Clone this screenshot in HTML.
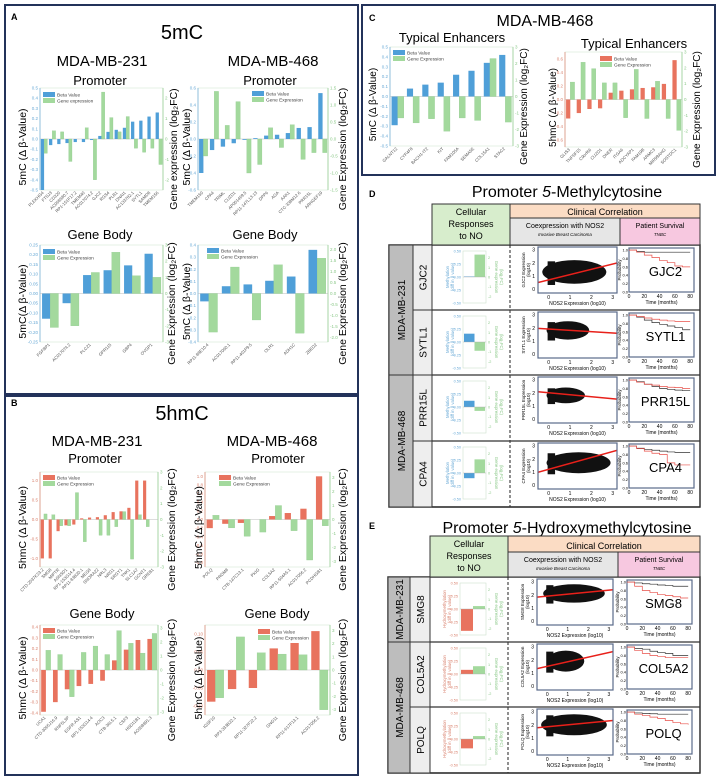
<!DOCTYPE html>
<html><head><meta charset="utf-8"><style>
html,body{margin:0;padding:0;background:#fff;}
svg{display:block;}
</style></head><body>
<svg id="fig" width="720" height="780" viewBox="0 0 720 780" xmlns="http://www.w3.org/2000/svg" font-family="Liberation Sans, sans-serif">
<rect x="0" y="0" width="720" height="780" fill="#fff"/>
<rect x="5" y="5" width="353" height="389" fill="none" stroke="#23325a" stroke-width="2"/>
<rect x="5" y="396" width="353" height="379" fill="none" stroke="#23325a" stroke-width="2"/>
<rect x="362" y="5" width="353" height="170" fill="none" stroke="#23325a" stroke-width="2"/>
<text x="11" y="20" font-size="9" font-weight="bold">A</text>
<text x="182" y="39" font-size="20" text-anchor="middle">5mC</text>
<text x="102" y="66" font-size="15" text-anchor="middle">MDA-MB-231</text>
<text x="273" y="66" font-size="15" text-anchor="middle">MDA-MB-468</text>
<text x="100" y="85" font-size="13" text-anchor="middle">Promoter</text>
<text x="270" y="85" font-size="13" text-anchor="middle">Promoter</text>
<text x="100" y="239" font-size="13" text-anchor="middle">Gene Body</text>
<text x="265" y="239" font-size="13" text-anchor="middle">Gene Body</text>
<text x="11" y="406" font-size="9" font-weight="bold">B</text>
<text x="182" y="420" font-size="20" text-anchor="middle">5hmC</text>
<text x="97" y="446" font-size="15" text-anchor="middle">MDA-MB-231</text>
<text x="272" y="446" font-size="15" text-anchor="middle">MDA-MB-468</text>
<text x="95" y="463" font-size="13" text-anchor="middle">Promoter</text>
<text x="278" y="463" font-size="13" text-anchor="middle">Promoter</text>
<text x="102" y="618" font-size="13" text-anchor="middle">Gene Body</text>
<text x="277" y="618" font-size="13" text-anchor="middle">Gene Body</text>
<text x="369" y="21" font-size="9" font-weight="bold">C</text>
<text x="545" y="26" font-size="16" text-anchor="middle">MDA-MB-468</text>
<text x="452" y="42" font-size="13" text-anchor="middle">Typical Enhancers</text>
<text x="634" y="48" font-size="13" text-anchor="middle">Typical Enhancers</text>
<text x="369" y="197" font-size="9" font-weight="bold">D</text>
<text x="567" y="197" font-size="16" text-anchor="middle">Promoter <tspan font-style="italic">5</tspan>-Methylcytosine</text>
<text x="369" y="529" font-size="9" font-weight="bold">E</text>
<text x="567" y="533" font-size="16" text-anchor="middle">Promoter <tspan font-style="italic">5</tspan>-Hydroxymethylcytosine</text>
</svg>
<script>
// ---------- DATA ----------
const aPro231Genes=['PLEKHG4','FTSJ3','CD320','AC068580.7','RP1-151F17.2','TMEM40','AC017074.2','GJC2','RGS4','PLB1','DNAI1','AC133782.1','SYTL1','SAMD8','TMEM156'];
const aPro231Beta=[-0.5,-0.06,-0.05,-0.04,-0.03,-0.03,-0.01,0.03,0.07,0.09,0.11,0.17,0.18,0.22,0.26];
const aPro231Expr=[-0.7,0.4,0.35,-1.1,0,0.55,-2.0,2.3,1.05,0.35,1.1,-0.45,-0.65,-0.45,-1.25];
const aPro468Genes=['TMEM150','CPA4','TRIML','CUZD1','AP001469.5','RP11-147L13.13','DPP6','AGA','AAK1','CTC-338M12.6','PRR15L','ARHGEF19'];
const aPro468Beta=[-0.4,-0.13,-0.09,-0.05,-0.01,0.01,0.04,0.05,0.07,0.13,0.14,0.54];
const aPro468Expr=[-0.5,1.4,0.4,1.1,-1.0,-0.75,0.33,-0.25,0.42,-0.6,-0.4,-0.4];
const aGb231Genes=['FGFBP1','AC017074.2','PLCZ1','GPR115','GBP4','OVGP1'];
const aGb231Beta=[-0.13,-0.05,0.095,0.12,0.145,0.205];
const aGb231Expr=[-2.1,-2.0,1.3,2.55,1.1,1.0];
const aGb468Genes=['RP11-88E10.4','AC017060.1','RP11-401P9.5','OLR1','ADH1C','ZBED2'];
const aGb468Beta=[-0.065,0.06,0.075,0.105,0.14,0.36];
const aGb468Expr=[-1.75,1.2,-1.2,1.3,-1.8,1.6];
const bPro231Genes=['CTD-2037K23.2','SMG8','MIPTR','ASNSD1','RP1-153G14.4','RP11-83B20.1','MEG8','SNORA22','NRL3','NRG1','SRGY1','TNK1','SLC1A7','GCNT1','GREB1'];
const bPro231Beta=[-1.0,-1.0,-0.3,-0.15,-0.13,0.03,0.05,0.06,0.11,0.19,0.21,0.3,1.0,1.0,0];
const bPro231Expr=[0.35,0.3,-0.4,-0.4,1.7,-1.4,0,-1.0,-1.0,-0.45,0.5,-2.5,0.3,-0.45,0];
const bPro468Genes=['POLQ','PRDM8','CTB-147C13.1','PKIG','COL5A2','RP11-504A5.1','AC017056.2','PCDHGB1'];
const bPro468Beta=[-0.2,-0.1,-0.08,0,0.08,0.15,0.25,1.0];
const bPro468Expr=[0.3,-0.6,-1.2,-0.9,1.0,-0.8,-2.9,-0.45];
const bGb231Genes=['UCA1','CTD-3065J16.9','RNF5L3P','EGFR-AS1','RP1-153G14.4','AOC3','CTB-36L5.1','CSF3','HSD11B1','AC008891.3'];
const bGb231Beta=[-0.39,-0.3,-0.18,-0.15,-0.13,-0.1,0.09,0.19,0.28,0.29];
const bGb231Expr=[1.4,1.1,-1.9,1.25,1.7,1.1,2.8,1.9,1.2,2.6];
const bGb468Genes=['IGSF10','RP3-333B22.1','RP11-327F22.2','GNG11','RP11-617F13.1','AC017056.2'];
const bGb468Beta=[-0.088,-0.053,-0.05,0.06,0.075,0.108];
const bGb468Expr=[-2.1,2.5,1.3,1.2,1.15,-3.0];
const cLeftGenes=['GALNT12','CYP4F8','BACH1-IT2','KIT','FAM105A','SEMA5E','COL15A1','STAC2'];
const cLeftBeta=[-0.29,0.08,0.12,0.14,0.22,0.26,0.34,0.42];
const cLeftExpr=[-1.3,-1.6,-1.35,-2.1,-1.3,-1.45,2.3,-1.55];
const cRightGenes=['GLIS3','TNFSF15','C9orf66','CUZD1','DNER','ITGA6','ADCYAP1','FAM19B','ARMC3','MIR99AHG','SOSTDC1'];
const cRightBeta=[-0.28,-0.2,-0.14,-0.13,0.1,0.13,0.15,0.17,0.18,0.23,0.58];
const cRightExpr=[1.1,2.35,1.95,1.05,1.05,-1.15,1.9,-1.2,1.15,-1.2,-1.95];
const dGenes=['GJC2','SYTL1','PRR15L','CPA4'];
const dBeta=[0.01,0.16,0.12,-0.1];
const dExpr=[2.3,-0.9,-0.4,1.4];
const dIntercept=[0.7,1.9,2.0,1.2];
const dSlope=[0.4,-0.1,-0.15,0.45];
const dCloudCx=[1.2,0.9,0.8,1.4], dCloudCy=[1.3,1.8,1.8,1.7], dCloudRx=[1.5,1.0,0.9,1.5], dCloudRy=[0.9,0.7,0.6,0.8];
const eGenes=['SMG8','COL5A2','POLQ'];
const eBeta=[-0.42,0.08,-0.18];
const eExpr=[0.3,0.8,0.3];
const eIntercept=[1.9,1.5,1.85];
const eSlope=[0.15,0.35,0.15];
const eCloudCx=[1.3,0.9,1.3], eCloudCy=[2.1,1.9,2.0], eCloudRx=[1.5,0.9,1.6], eCloudRy=[0.7,0.8,0.8];
const kmTime=[0,10,20,30,40,50,60,70,80];
const kmLowD=[[1,.97,.95,.95,.95,.95,.95,.95,.95],[1,.95,.88,.82,.78,.74,.7,.65,.65],[1,.96,.9,.85,.8,.78,.76,.75,.75],[1,.95,.92,.9,.88,.86,.85,.85,.85]];
const kmHighD=[[1,.95,.88,.82,.75,.7,.62,.6,.6],[1,.97,.93,.9,.88,.86,.85,.85,.85],[1,.95,.9,.88,.85,.83,.82,.8,.8],[1,.94,.88,.83,.8,.6,.55,.55,.55]];
const kmLowE=[[1,.98,.96,.95,.93,.92,.9,.9,.9],[1,.97,.95,.9,.87,.85,.8,.8,.8],[1,.98,.97,.96,.95,.95,.95,.95,.95]];
const kmHighE=[[1,.9,.8,.75,.7,.68,.65,.62,.62],[1,.92,.85,.8,.78,.75,.75,.75,.75],[1,.95,.92,.88,.85,.8,.75,.72,.7]];

// ---------- HELPERS ----------
const NS='http://www.w3.org/2000/svg';
const svg=document.getElementById('fig');
function mk(tag,attrs,parent){const e=document.createElementNS(NS,tag);for(const k in attrs)e.setAttribute(k,attrs[k]);(parent||svg).appendChild(e);return e;}
function txt(s,attrs,parent){const e=mk('text',attrs,parent);e.textContent=s;return e;}
const BLUE='#4f9fd8',GREEN='#a3d99d',RED='#e8735e',LB='#6aaad6',LG='#8cc98a',LR='#d9826e';
function range(a,b,s){const r=[];for(let v=a;v<=b+1e-9;v+=s)r.push(+v.toFixed(4));return r;}

function drawBarChart(c){
  const g=mk('g',{});
  
  
  const yL=v=>c.y+c.h*(c.lmax-v)/(c.lmax-c.lmin);
  const yR=v=>c.y+c.h*(c.rmax-v)/(c.rmax-c.rmin);
  const n=c.genes.length,bw=c.w/n;
  const fr=mk('rect',{x:c.x,y:c.y,width:c.w,height:c.h,fill:'none',stroke:'#d6e6d6','stroke-width':0.6},g);
  
  
  const lcol=c.red?LR:LB;
  const la=mk('line',{x1:c.x,y1:c.y,x2:c.x,y2:c.y+c.h,stroke:lcol,'stroke-width':0.7},g);
  
  
  const ra=mk('line',{x1:c.x+c.w,y1:c.y,x2:c.x+c.w,y2:c.y+c.h,stroke:LG,'stroke-width':0.7},g);
  
  
  c.lticks.forEach(v=>{
    const t=txt(v.toFixed(c.ldec),{x:c.x-2,y:yL(v)+1.5,'font-size':4.5,'text-anchor':'end',fill:lcol},g);
    
    
  });
  c.rticks.forEach(v=>{
    const t=txt(v.toFixed(c.rdec),{x:c.x+c.w+2,y:yR(v)+1.5,'font-size':4.5,fill:LG},g);
    
    
  });
  const z=mk('line',{x1:c.x,y1:yL(0),x2:c.x+c.w,y2:yL(0),stroke:'#bbb','stroke-width':0.5},g);
  
  
  for(let i=0;i<n;i++){
    const bx=c.x+i*bw;
    const b=c.beta[i],e=c.expr[i];
    const r1=mk('rect',{x:bx+bw*0.1,y:Math.min(yL(b),yL(0)),width:bw*0.4,height:Math.abs(yL(b)-yL(0)),fill:c.red?RED:BLUE},g);
    
    
    const r2=mk('rect',{x:bx+bw*0.5,y:Math.min(yR(e),yR(0)),width:bw*0.4,height:Math.abs(yR(e)-yR(0)),fill:GREEN,stroke:'#8cc98a','stroke-width':0.3},g);
    
    
    const cx=bx+bw/2,cy=c.y+c.h+3;
    const t=txt(c.genes[i],{x:cx,y:cy,'font-size':4.3,'text-anchor':'end',fill:'#555',transform:`rotate(-45 ${cx} ${cy})`},g);
    
    
  }
  const lg=mk('g',{},g);
  
  
  const s1=mk('rect',{x:c.legX,y:c.legY,width:12,height:5,fill:c.red?RED:BLUE},lg);
  
  
  const t1=txt('Beta Value',{x:c.legX+14,y:c.legY+4.5,'font-size':4.8,fill:'#444'},lg);
  
  
  const s2=mk('rect',{x:c.legX,y:c.legY+6,width:12,height:5,fill:GREEN},lg);
  
  
  const t2=txt(c.exprLabel||'Gene Expression',{x:c.legX+14,y:c.legY+10.5,'font-size':4.8,fill:'#444'},lg);
  
  
  const my=c.y+c.h/2+8;
  const lt=txt(c.ltitle,{x:c.ltx,y:my,'font-size':c.tfs||10.5,'text-anchor':'middle',transform:`rotate(-90 ${c.ltx} ${my})`},g);
  
  
  const ry=c.y+c.h/2+10;
  const rt=mk('text',{x:c.rtx,y:ry,'font-size':c.tfs||10.5,'text-anchor':'middle',transform:`rotate(-90 ${c.rtx} ${ry})`},g);
  rt.textContent=(c.rtitle||'Gene Expression')+' (log₂FC)';
  
  
}

const charts=[
 {name:'a-promoter-231-chart',x:40,y:88,w:123,h:102,lmin:-.5,lmax:.5,lticks:range(-.5,.5,.1),ldec:1,rmin:-2.5,rmax:2.5,rticks:range(-2,2,1),rdec:0,genes:aPro231Genes,beta:aPro231Beta,expr:aPro231Expr,legX:43,legY:92,ltx:26,rtx:177,ltitle:'5mC (Δ β-Value)',rtitle:'Gene expression',exprLabel:'Gene expression'},
 {name:'a-promoter-468-chart',x:198,y:88,w:130,h:102,lmin:-.6,lmax:.6,lticks:range(-.6,.6,.2),ldec:1,rmin:-1.5,rmax:1.5,rticks:range(-1.5,1.5,.5),rdec:1,genes:aPro468Genes,beta:aPro468Beta,expr:aPro468Expr,legX:252,legY:91,ltx:190,rtx:346,ltitle:'5mC (Δ β-Value)'},
 {name:'a-genebody-231-chart',x:40,y:245,w:123,h:97,lmin:-.25,lmax:.25,lticks:range(-.25,.25,.05),ldec:2,rmin:-3,rmax:3,rticks:range(-3,3,1),rdec:0,genes:aGb231Genes,beta:aGb231Beta,expr:aGb231Expr,legX:43,legY:249,ltx:26,rtx:175,ltitle:'5mC(Δ β-Value)'},
 {name:'a-genebody-468-chart',x:198,y:245,w:130,h:97,lmin:-.4,lmax:.4,lticks:range(-.4,.4,.1),ldec:1,rmin:-2.2,rmax:2.2,rticks:range(-2,2,.5),rdec:1,genes:aGb468Genes,beta:aGb468Beta,expr:aGb468Expr,legX:207,legY:248,ltx:190,rtx:346,ltitle:'5mC (Δ β-Value)'},
 {name:'b-promoter-231-chart',x:40,y:472,w:118,h:95,lmin:-1.22,lmax:1.22,lticks:range(-1,1,.5),ldec:1,rmin:-3,rmax:3,rticks:range(-3,3,1),rdec:0,genes:bPro231Genes,beta:bPro231Beta,expr:bPro231Expr,legX:43,legY:475,ltx:26,rtx:175,ltitle:'5hmC (Δ β-Value)',red:true},
 {name:'b-promoter-468-chart',x:205,y:472,w:125,h:95,lmin:-1.1,lmax:1.1,lticks:range(-1,1,.2),ldec:1,rmin:-3.4,rmax:3.4,rticks:range(-3,3,1),rdec:0,genes:bPro468Genes,beta:bPro468Beta,expr:bPro468Expr,legX:219,legY:475,ltx:202,rtx:346,ltitle:'5hmC (Δ β-Value)',red:true},
 {name:'b-genebody-231-chart',x:40,y:625,w:118,h:90,lmin:-.42,lmax:.42,lticks:range(-.4,.4,.1),ldec:1,rmin:-3.2,rmax:3.2,rticks:range(-3,3,1),rdec:0,genes:bGb231Genes,beta:bGb231Beta,expr:bGb231Expr,legX:43,legY:628,ltx:26,rtx:175,ltitle:'5hmC (Δ β-Value)',red:true},
 {name:'b-genebody-468-chart',x:205,y:625,w:125,h:90,lmin:-.125,lmax:.125,lticks:range(-.1,.1,.05),ldec:2,rmin:-3.4,rmax:3.4,rticks:range(-3,3,1),rdec:0,genes:bGb468Genes,beta:bGb468Beta,expr:bGb468Expr,legX:258,legY:629,ltx:202,rtx:346,ltitle:'5hmC (Δ β-Value)',red:true},
 {name:'c-enhancer-5mc-chart',x:390,y:47,w:123,h:99,lmin:-.5,lmax:.5,lticks:range(-.5,.5,.1),ldec:1,rmin:-3,rmax:3,rticks:range(-3,3,1),rdec:0,genes:cLeftGenes,beta:cLeftBeta,expr:cLeftExpr,legX:393,legY:50,ltx:376,rtx:527,ltitle:'5mC (Δ β-Value)',tfs:10},
 {name:'c-enhancer-5hmc-chart',x:565,y:52,w:117,h:95,lmin:-.7,lmax:.7,lticks:range(-.6,.6,.2),ldec:1,rmin:-3,rmax:3,rticks:range(-3,3,1),rdec:0,genes:cRightGenes,beta:cRightBeta,expr:cRightExpr,legX:600,legY:56,ltx:556,rtx:700,ltitle:'5hmC (Δ β-Value)',tfs:10,red:true}
];
charts.forEach(drawBarChart);

// ---------- TABLES ----------
function rect(x,y,w,h,fill,name,stroke,sw){
  const r=mk('rect',{x,y,width:w,height:h,fill,stroke:stroke||'#333','stroke-width':sw||1});
  
  
  return r;
}
function label(s,x,y,fs,name,extra){
  const a=Object.assign({x,y,'font-size':fs,'text-anchor':'middle'},extra||{});
  const t=txt(s,a);
  
  
  return t;
}
function drawTable(T){
  rect(T.x0,T.rows[0],T.x3-T.x0,T.rows[T.rows.length-1]-T.rows[0],'none',T.p+'-table-frame','#333',1.5);
  rect(T.x2,T.hy0,T.xd-T.x2,T.rows[0]-T.hy0,'#d7edcc',T.p+'-header-cellular');
  label('Cellular',(T.x2+T.xd)/2,T.hy0+11,9,T.p+'-header-cellular-text');
  label('Responses',(T.x2+T.xd)/2,T.hy0+23,9,T.p+'-header-cellular-text2');
  label('to NO',(T.x2+T.xd)/2,T.hy0+35,9,T.p+'-header-cellular-text3');
  rect(T.xd,T.hy0,T.x3-T.xd,T.hy1-T.hy0,'#fbdcc4',T.p+'-header-clinical');
  label('Clinical Correlation',(T.xd+T.x3)/2,T.hy1-3,9,T.p+'-header-clinical-text');
  rect(T.xd,T.hy1,T.xk-T.xd,T.rows[0]-T.hy1,'#e6e6e6',T.p+'-header-coexpression');
  label('Coexpression with NOS2',(T.xd+T.xk)/2,T.hy1+10,7,T.p+'-header-coexpression-text');
  label('Invasive Breast Carcinoma',(T.xd+T.xk)/2,T.hy1+18,4.5,T.p+'-header-coexpression-sub',{'font-style':'italic'});
  rect(T.xk,T.hy1,T.x3-T.xk,T.rows[0]-T.hy1,'#f7c8e0',T.p+'-header-survival');
  label('Patient Survival',(T.xk+T.x3)/2,T.hy1+10,7,T.p+'-header-survival-text');
  label('TNBC',(T.xk+T.x3)/2,T.hy1+18,4.5,T.p+'-header-survival-sub',{'font-style':'italic'});
  T.groups.forEach(gr=>{
    const y0=T.rows[gr.from],y1=T.rows[gr.to+1];
    rect(T.x0,y0,T.x1-T.x0,y1-y0,'#bdbdbd',T.p+'-cell-line-cell');
    const cx=(T.x0+T.x1)/2+4,cy=(y0+y1)/2;
    label(gr.name,cx,cy,10,T.p+'-cell-line-label',{transform:`rotate(-90 ${cx} ${cy})`});
  });
  const dash=mk('line',{x1:T.xd,y1:T.rows[0],x2:T.xd,y2:T.rows[T.rows.length-1],stroke:'#222','stroke-width':1,'stroke-dasharray':'3,2'});
  
  
  T.genes.forEach((gname,i)=>{
    const y0=T.rows[i],y1=T.rows[i+1];
    rect(T.x1,y0,T.x2-T.x1,y1-y0,'#eeeeee',T.p+'-gene-cell');
    const cx=(T.x1+T.x2)/2+4,cy=(y0+y1)/2;
    label(gname,cx,cy,10,T.p+'-gene-label',{transform:`rotate(-90 ${cx} ${cy})`});
    const rl=mk('line',{x1:T.x2,y1:y1,x2:T.x3,y2:y1,stroke:'#333','stroke-width':1.2});
    
    
    const mx=T.mx0,mw=T.mx1-T.mx0,my=y0+6,mh=52;
    const yl=v=>my+mh*(0.5-v)/1.0, yr=v=>my+mh*(2.67-v)/5.34;
    const mg=mk('g',{});
    
    
    const fr=mk('rect',{x:mx,y:my,width:mw,height:mh,fill:'none',stroke:'#cfe0cf','stroke-width':0.6},mg);
    
    
    const lc=T.red?LR:LB;
    [0.5,0.25,0,-0.25,-0.5].forEach(v=>{
      const t=txt(v.toFixed(2),{x:mx-2,y:yl(v)+1.5,'font-size':3.8,'text-anchor':'end',fill:lc},mg);
      
      
    });
    [2,1,0,-1,-2].forEach(v=>{
      const t=txt(String(v),{x:mx+mw+2,y:yr(v)+1.5,'font-size':3.8,fill:LG},mg);
      
      
    });
    const b=T.beta[i],e=T.expr[i];
    const r1=mk('rect',{x:mx+1,y:Math.min(yl(b),yl(0)),width:mw/2-1,height:Math.abs(yl(b)-yl(0)),fill:T.red?RED:BLUE},mg);
    
    
    const r2=mk('rect',{x:mx+mw/2,y:Math.min(yr(e),yr(0)),width:mw/2-1,height:Math.abs(yr(e)-yr(0)),fill:GREEN},mg);
    
    
    const zl=mk('line',{x1:mx,y1:yl(0),x2:mx+mw,y2:yl(0),stroke:'#aaa','stroke-width':0.4},mg);
    
    
    const ax=mx-14,ay=my+mh/2;
    const t1=txt(T.red?'Hydroxymethylation':'Methylation',{x:ax,y:ay,'font-size':4.3,'text-anchor':'middle',fill:lc,transform:`rotate(-90 ${ax} ${ay})`},mg);
    
    
    const t2=txt('(diff in β value)',{x:ax+5,y:ay,'font-size':4.3,'text-anchor':'middle',fill:lc,transform:`rotate(-90 ${ax+5} ${ay})`},mg);
    
    
    const bx2=mx+mw+9;
    const t3=txt('Gene expression',{x:bx2,y:ay,'font-size':4.3,'text-anchor':'middle',fill:LG,transform:`rotate(90 ${bx2} ${ay})`},mg);
    
    
    const t4=txt('(log₂FC)',{x:bx2+5,y:ay,'font-size':4.3,'text-anchor':'middle',fill:LG,transform:`rotate(90 ${bx2+5} ${ay})`},mg);
    
    
    const sx0=T.sx0,sx1=T.sx1,sy0=y0+2,sy1=y0+48;
    const X=v=>sx0+(sx1-sx0)*(v+0.5)/3.7, Y=v=>sy1-(sy1-sy0)*(v+0.3)/3.5;
    const sg=mk('g',{});
    
    
    const cp=mk('clipPath',{id:'clip'+gname},sg);
    mk('rect',{x:sx0,y:sy0,width:sx1-sx0,height:sy1-sy0},cp);
    const cl=mk('g',{'clip-path':`url(#clip${gname})`},sg);
    const cxv=T.ccx[i],cyv=T.ccy[i];
    const el=mk('ellipse',{cx:X(cxv),cy:Y(cyv),rx:(X(T.crx[i])-X(0)),ry:(Y(0)-Y(T.cry[i])),fill:'#111'},cl);
    
    
    const col=mk('rect',{x:X(-0.05),y:Y(cyv+T.cry[i]*0.9),width:X(0.35)-X(0),height:Y(cyv-T.cry[i]*1.1)-Y(cyv+T.cry[i]*0.9),fill:'#111'},cl);
    
    
    const ln=mk('line',{x1:X(-0.5),y1:Y(T.ic[i]+T.sl[i]*-0.5),x2:X(3.2),y2:Y(T.ic[i]+T.sl[i]*3.2),stroke:'#e8201a','stroke-width':1.5},cl);
    
    
    const bf=mk('rect',{x:sx0,y:sy0,width:sx1-sx0,height:sy1-sy0,fill:'none',stroke:'#5a6a8a','stroke-width':1.2},sg);
    
    
    [0,1,2,3].forEach(v=>{
      const a=txt(String(v),{x:X(v),y:sy1+6,'font-size':5,'text-anchor':'middle'},sg);
      
      
      const b2=txt(String(v),{x:sx0-3,y:Y(v)+2,'font-size':5,'text-anchor':'end'},sg);
      
      
    });
    const xt=txt('NOS2 Expression (log10)',{x:(sx0+sx1)/2,y:sy1+12,'font-size':5,'text-anchor':'middle'},sg);
    
    
    const yx=sx0-13,yy=(sy0+sy1)/2;
    const yt=txt(gname+' Expression',{x:yx,y:yy,'font-size':4.5,'text-anchor':'middle',transform:`rotate(-90 ${yx} ${yy})`},sg);
    
    
    const yt2=txt('(log10)',{x:yx+5,y:yy,'font-size':4.5,'text-anchor':'middle',transform:`rotate(-90 ${yx+5} ${yy})`},sg);
    
    
    const kx0=T.kx0,kx1=T.kx1,ky0=y0+3,ky1=y0+47;
    const KX=t=>kx0+(kx1-kx0)*t/85, KY=p=>ky1-(ky1-ky0)*p/1.05;
    const kg=mk('g',{});
    
    
    const kf=mk('rect',{x:kx0,y:ky0,width:kx1-kx0,height:ky1-ky0,fill:'#fff',stroke:'#5a6a8a','stroke-width':1.2},kg);
    
    
    [[T.kmL[i],'#333','survival-curve-low'],[T.kmH[i],'#e8504a','survival-curve-high']].forEach(([arr,colr,nm])=>{
      let d='M'+KX(kmTime[0])+','+KY(arr[0]);
      for(let k=1;k<kmTime.length;k++){d+=' H'+KX(kmTime[k])+' V'+KY(arr[k]);}
      const p=mk('path',{d,fill:'none',stroke:colr,'stroke-width':0.7},kg);
      
      
    });
    const gn=txt(gname,{x:(kx0+kx1)/2+4,y:(ky0+ky1)/2+6,'font-size':13,'text-anchor':'middle'},kg);
    
    
    [0,20,40,60,80].forEach(v=>{
      const a=txt(String(v),{x:KX(v),y:ky1+6,'font-size':5,'text-anchor':'middle'},kg);
      
      
    });
    [0,0.2,0.4,0.6,0.8,1.0].forEach(v=>{
      const a=txt(v.toFixed(1),{x:kx0-1,y:KY(v)+1.5,'font-size':4,'text-anchor':'end'},kg);
      
      
    });
    const kt=txt('Time (months)',{x:(kx0+kx1)/2,y:ky1+12,'font-size':5,'text-anchor':'middle'},kg);
    
    
    const px=kx0-8,py=(ky0+ky1)/2;
    const pt=txt('Probability',{x:px,y:py,'font-size':4.5,'text-anchor':'middle',transform:`rotate(-90 ${px} ${py})`},kg);
    
    
  });
}
drawTable({p:'d',x0:389,x1:413,x2:432,xd:510,xk:620,x3:700,hy0:204,hy1:218,rows:[245,310,375,441,507],
  groups:[{name:'MDA-MB-231',from:0,to:1},{name:'MDA-MB-468',from:2,to:3}],
  genes:dGenes,beta:dBeta,expr:dExpr,ic:dIntercept,sl:dSlope,ccx:dCloudCx,ccy:dCloudCy,crx:dCloudRx,cry:dCloudRy,kmL:kmLowD,kmH:kmHighD,
  mx0:463,mx1:486,sx0:538,sx1:617,kx0:629,kx1:694});
drawTable({p:'e',x0:388,x1:410,x2:430,xd:508,xk:618,x3:700,hy0:536,hy1:552,rows:[577,642,707,773],
  groups:[{name:'MDA-MB-231',from:0,to:0},{name:'MDA-MB-468',from:1,to:2}],
  genes:eGenes,beta:eBeta,expr:eExpr,ic:eIntercept,sl:eSlope,ccx:eCloudCx,ccy:eCloudCy,crx:eCloudRx,cry:eCloudRy,kmL:kmLowE,kmH:kmHighE,
  mx0:460,mx1:486,sx0:537,sx1:613,kx0:627,kx1:692,red:true});
</script>
</body></html>
